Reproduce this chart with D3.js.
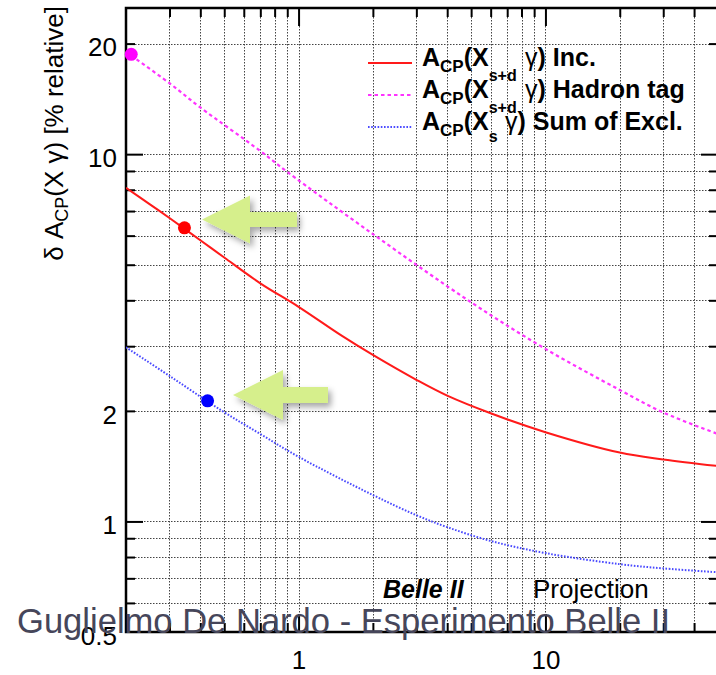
<!DOCTYPE html>
<html>
<head>
<meta charset="utf-8">
<script src="https://cdn.jsdelivr.net/npm/d3@7"></script>
<style>
  html, body { margin: 0; padding: 0; background: #fff; }
  svg { display: block; }
  text { font-family: "Liberation Sans", Arial, Helvetica, sans-serif; }
</style>
</head>
<body>
<svg id="chart" width="716" height="675"></svg>
<script>
// Integrated luminosity (ab^-1) and relative uncertainty on A_CP (%)
const incLumi = [0.2, 0.25, 0.3, 0.4, 0.5, 0.7, 1, 1.5, 2, 3, 4, 6, 10, 20, 30, 50];
const incErr  = [8.1, 7.3, 6.7, 5.83, 5.23, 4.45, 3.84, 3.2, 2.84, 2.43, 2.2, 1.97, 1.75, 1.54, 1.475, 1.415];

const hadLumi = [0.2, 0.3, 0.4, 0.7, 0.9, 2, 5, 10, 20, 30, 50];
const hadErr  = [19.0, 15.6, 13.4, 10.2, 8.95, 6.06, 3.95, 2.95, 2.28, 1.98, 1.73];

const sumLumi = [0.2, 0.3, 0.49, 0.7, 1, 2, 3, 4, 6, 10, 20, 30, 50];
const sumErr  = [2.98, 2.49, 2.0, 1.73, 1.5, 1.18, 1.04, 0.965, 0.885, 0.82, 0.765, 0.745, 0.727];

// Current measurements (markers)
const incPoint = [0.345, 6.3];
const hadPoint = [0.21, 18.7];
const sumPoint = [0.428, 2.13];

// Axis ticks
const xDomain = [0.2, 50];
const yDomain = [0.5, 25];
const xMajor = [1, 10];
const xMinor = [0.3, 0.4, 0.5, 0.6, 0.7, 0.8, 0.9, 2, 3, 4, 5, 6, 7, 8, 9, 20, 30, 40];
const xLabels = [1, 10];
const yMajor = [1, 10];
const yMinor = [0.6, 0.7, 0.8, 0.9, 2, 3, 4, 5, 6, 7, 8, 9, 20];
const yLabels = [0.5, 1, 2, 10, 20];

const legendItems = [
  { sub: "s+d", subDy: 15, gammaX: 525, rest: ") Inc.", color: "#ff1a1a", dash: null, width: 2 },
  { sub: "s+d", subDy: 15, gammaX: 525, rest: ") Hadron tag", color: "#ff33ff", dash: "3.5,3", width: 2 },
  { sub: "s", subDy: 12, gammaX: 505, rest: ") Sum of Excl.", color: "#4a4aff", dash: "1.6,1.6", width: 2 }
];

const svg = d3.select("#chart");
const L = 126, R = 718, T = 8, B = 632;
const x = d3.scaleLog().domain(xDomain).range([L, R]);
const y = d3.scaleLog().domain(yDomain).range([B, T]);

const defs = svg.append("defs");
defs.append("clipPath").attr("id", "plot")
  .append("rect").attr("x", L).attr("y", T).attr("width", R - L).attr("height", B - T);
const shadow = defs.append("filter").attr("id", "shadow")
  .attr("x", "-30%").attr("y", "-30%").attr("width", "160%").attr("height", "170%");
shadow.append("feDropShadow").attr("dx", 3).attr("dy", 4).attr("stdDeviation", 3)
  .attr("flood-color", "#000").attr("flood-opacity", 0.35);

// Grid
const grid = svg.append("g").attr("stroke", "#444").attr("stroke-width", 1)
  .attr("stroke-dasharray", "1.5,1.5");
grid.selectAll("line.v").data(xMajor.concat(xMinor)).join("line")
  .attr("x1", d => Math.round(x(d)) + 0.5).attr("x2", d => Math.round(x(d)) + 0.5)
  .attr("y1", T).attr("y2", B);
grid.selectAll("line.h").data(yMajor.concat(yMinor)).join("line")
  .attr("y1", d => Math.round(y(d)) + 0.5).attr("y2", d => Math.round(y(d)) + 0.5)
  .attr("x1", L).attr("x2", R);

// Axes with inward ticks on all four sides
function ticks(axisFn, values, size, transform) {
  const g = svg.append("g").attr("transform", transform)
    .call(axisFn.tickValues(values).tickSize(-size).tickSizeOuter(0).tickFormat(""));
  g.select(".domain").remove();
  g.selectAll(".tick line").attr("stroke", "#000").attr("stroke-width", 2);
  return g;
}
ticks(d3.axisLeft(y), yMajor, 17, `translate(${L},0)`);
ticks(d3.axisLeft(y), yMinor, 9, `translate(${L},0)`);
ticks(d3.axisRight(y), yMajor, 17, `translate(${R},0)`);
ticks(d3.axisRight(y), yMinor, 9, `translate(${R},0)`);
ticks(d3.axisTop(x), xMajor, 18, `translate(0,${T})`);
ticks(d3.axisTop(x), xMinor, 9, `translate(0,${T})`);
ticks(d3.axisBottom(x), xMajor, 18, `translate(0,${B})`);
ticks(d3.axisBottom(x), xMinor, 9, `translate(0,${B})`);

// Tick labels
const yl = svg.append("g").attr("transform", `translate(${L},0)`)
  .call(d3.axisLeft(y).tickValues(yLabels).tickSize(0).tickPadding(9)
    .tickFormat(d => String(d)));
yl.select(".domain").remove();
yl.selectAll("text").attr("font-size", 26).attr("fill", "#000")
  .attr("font-family", "Liberation Sans, Arial, sans-serif").attr("dy", "0.47em");

const xl = svg.append("g").attr("transform", `translate(0,${B})`)
  .call(d3.axisBottom(x).tickValues(xLabels).tickSize(0).tickPadding(19)
    .tickFormat(d => String(d)));
xl.select(".domain").remove();
xl.selectAll("text").attr("font-size", 26).attr("fill", "#000")
  .attr("font-family", "Liberation Sans, Arial, sans-serif");

// Frame
svg.append("rect").attr("x", L).attr("y", T).attr("width", R - L).attr("height", B - T)
  .attr("fill", "none").attr("stroke", "#000").attr("stroke-width", 2.5);

// Y-axis title
const yt = svg.append("text")
  .attr("transform", "translate(63,6) rotate(-90)")
  .attr("text-anchor", "end").attr("font-size", 26).attr("fill", "#000");
yt.append("tspan").text("δ A");
yt.append("tspan").attr("font-size", 18).attr("dy", 5).text("CP");
yt.append("tspan").attr("dy", -5).text("(X γ) [% relative]");

// Curves
const line = d3.line().x(d => x(d[0])).y(d => y(d[1])).curve(d3.curveCatmullRom.alpha(0.5));
const curves = svg.append("g").attr("clip-path", "url(#plot)").attr("fill", "none");
curves.append("path").datum(d3.zip(incLumi, incErr)).attr("d", line)
  .attr("stroke", legendItems[0].color).attr("stroke-width", 2);
curves.append("path").datum(d3.zip(hadLumi, hadErr)).attr("d", line)
  .attr("stroke", legendItems[1].color).attr("stroke-width", 2.2)
  .attr("stroke-dasharray", legendItems[1].dash);
curves.append("path").datum(d3.zip(sumLumi, sumErr)).attr("d", line)
  .attr("stroke", legendItems[2].color).attr("stroke-width", 2)
  .attr("stroke-dasharray", legendItems[2].dash);

// Markers
const pts = [[incPoint, "#ff0000"], [hadPoint, "#ff00ff"], [sumPoint, "#0000ff"]];
svg.append("g").selectAll("circle").data(pts).join("circle")
  .attr("cx", d => x(d[0][0])).attr("cy", d => y(d[0][1])).attr("r", 6.5)
  .attr("fill", d => d[1]);

// Legend
const lg = svg.append("g");
legendItems.forEach((it, i) => {
  const by = 66 + i * 32;
  lg.append("line").attr("x1", 368).attr("x2", 412).attr("y1", by - 3).attr("y2", by - 3)
    .attr("stroke", it.color).attr("stroke-width", it.width)
    .attr("stroke-dasharray", it.dash);
  const t = lg.append("text").attr("x", 422).attr("y", by)
    .attr("font-size", 25).attr("font-weight", "bold").attr("fill", "#000");
  t.append("tspan").text("A");
  t.append("tspan").attr("font-size", 17).attr("dy", 6).text("CP");
  t.append("tspan").attr("dy", -6).text("(X");
  t.append("tspan").attr("font-size", 16).attr("dy", it.subDy).text(it.sub);
  t.append("tspan").attr("dy", -it.subDy).attr("x", it.gammaX).attr("font-weight", "normal").text("γ");
  t.append("tspan").text(it.rest);
});

// Experiment label
svg.append("text").attr("x", 383).attr("y", 598).attr("font-size", 25)
  .attr("font-weight", "bold").attr("font-style", "italic").text("Belle II");
svg.append("text").attr("x", 533).attr("y", 598).attr("font-size", 26).text("Projection");

// Pointer arrows
function arrow(tipX, cy, headLen, headHalf, shaftEnd, shaftHalf) {
  const p = d3.path();
  p.moveTo(tipX, cy);
  p.lineTo(tipX + headLen, cy - headHalf);
  p.lineTo(tipX + headLen, cy - shaftHalf);
  p.lineTo(shaftEnd, cy - shaftHalf);
  p.lineTo(shaftEnd, cy + shaftHalf);
  p.lineTo(tipX + headLen, cy + shaftHalf);
  p.lineTo(tipX + headLen, cy + headHalf);
  p.closePath();
  svg.append("path").attr("d", p.toString()).attr("fill", "#d6ef8c")
    .attr("filter", "url(#shadow)");
}
arrow(202, 219.5, 48, 24, 297, 7.5);
arrow(233, 395, 50, 25, 328, 8);

// Footer
svg.append("text").attr("x", 17).attr("y", 633)
  .attr("font-family", "Lato, 'Open Sans', sans-serif").attr("font-size", 35)
  .attr("fill", "#46465a").attr("textLength", 653).attr("lengthAdjust", "spacingAndGlyphs")
  .text("Guglielmo De Nardo - Esperimento Belle II");
</script>
</body>
</html>
